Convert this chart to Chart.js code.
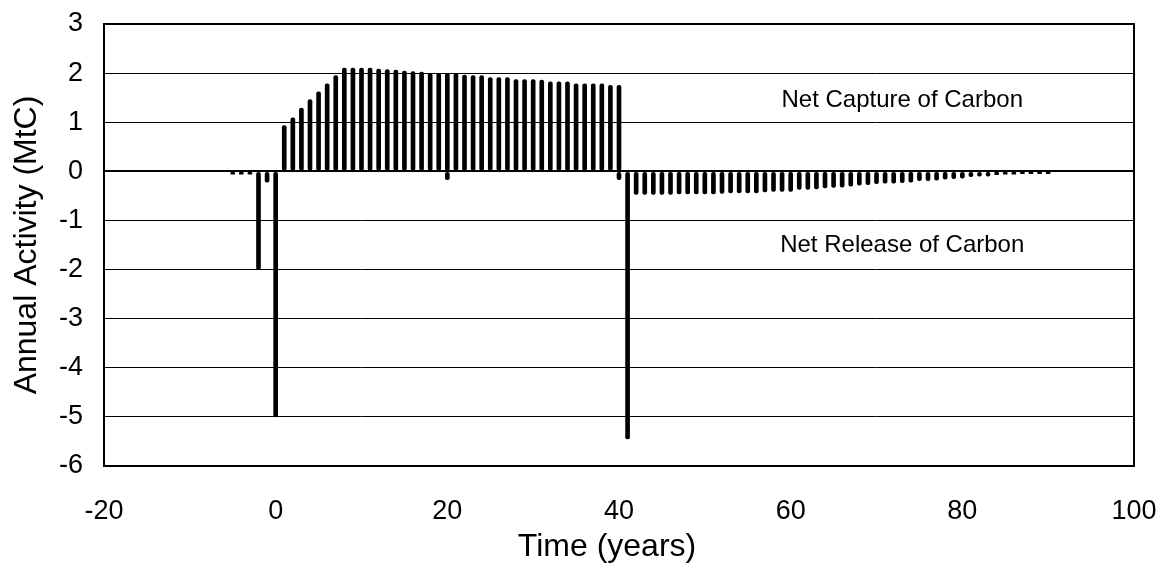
<!DOCTYPE html>
<html>
<head>
<meta charset="utf-8">
<script src="https://cdn.jsdelivr.net/npm/chart.js@4"></script>
<style>
  html, body { margin: 0; padding: 0; background: #fff; }
  #wrap { width: 1161px; height: 564px; }
</style>
</head>
<body>
<div id="wrap"><canvas id="chart" width="1161" height="564"></canvas></div>
<script>
// carbon activity per year (MtC)
const captureYears  = [1,2,3,4,5,6,7,8,9,10,11,12,13,14,15,16,17,18,19,20,21,22,23,24,25,26,27,28,29,30,31,32,33,34,35,36,37,38,39,40];
const captureValues = [0.93,1.09,1.29,1.46,1.62,1.78,1.95,2.10,2.10,2.10,2.10,2.08,2.07,2.06,2.04,2.03,2.02,1.99,1.99,1.99,
                       1.99,1.96,1.95,1.95,1.91,1.91,1.91,1.87,1.87,1.87,1.86,1.82,1.82,1.82,1.78,1.78,1.78,1.78,1.75,1.75];

const releaseYears  = [-5,-4,-3,-2,-1,0,20,40,41,42,43,44,45,46,47,48,49,50,51,52,53,54,55,56,57,58,59,60,61,62,63,64,65,
                       66,67,68,69,70,71,72,73,74,75,76,77,78,79,80,81,82,83,84,85,86,87,88,89,90];
const releaseValues = [-0.06,-0.06,-0.06,-2.00,-0.22,-5.00,-0.17,-0.17,-5.45,
                       -0.47,-0.47,-0.47,-0.47,-0.47,-0.46,-0.46,-0.46,-0.46,-0.46,-0.45,-0.44,-0.44,-0.44,-0.44,
                       -0.42,-0.41,-0.41,-0.41,-0.37,-0.37,-0.36,-0.34,-0.33,-0.32,-0.30,-0.28,-0.27,-0.25,-0.24,
                       -0.24,-0.23,-0.22,-0.19,-0.19,-0.18,-0.16,-0.15,-0.14,-0.11,-0.10,-0.10,-0.07,-0.06,-0.06,
                       -0.05,-0.05,-0.05,-0.05];

const xTicks = [-20,0,20,40,60,80,100];
const yTicks = [3,2,1,0,-1,-2,-3,-4,-5,-6];
const xTitle = 'Time (years)';
const notes = [
  { text: 'Net Capture of Carbon', x: 73, y: 1.45 },
  { text: 'Net Release of Carbon', x: 73, y: -1.5 }
];

const FONT = '"Liberation Sans", Arial, sans-serif';

const toPoints = (xs, ys) => xs.map((x, i) => ({ x, y: ys[i] }));

const frameAndNotes = {
  id: 'frameAndNotes',
  afterDatasetsDraw(chart) {
    const { ctx, chartArea: a, scales } = chart;
    ctx.save();
    ctx.strokeStyle = '#000';
    ctx.lineWidth = 2;
    ctx.strokeRect(a.left, a.top, a.right - a.left, a.bottom - a.top);
    ctx.fillStyle = '#000';
    ctx.textAlign = 'center';
    ctx.textBaseline = 'middle';
    ctx.font = '24px ' + FONT;
    notes.forEach(n => ctx.fillText(n.text, scales.x.getPixelForValue(n.x), scales.y.getPixelForValue(n.y)));
    // x title sits a little left of the plot centre in the original
    ctx.font = '32px ' + FONT;
    ctx.fillText(xTitle, (a.left + a.right) / 2 - 12, 547);
    ctx.restore();
  }
};

const barStyle = {
  backgroundColor: '#000',
  barThickness: 4,
  borderRadius: 2,
  borderSkipped: false,
  grouped: false
};

new Chart(document.getElementById('chart'), {
  type: 'bar',
  data: {
    datasets: [
      { label: 'Capture', data: toPoints(captureYears, captureValues), ...barStyle },
      { label: 'Release', data: toPoints(releaseYears, releaseValues), ...barStyle }
    ]
  },
  options: {
    responsive: false,
    animation: false,
    layout: { padding: { top: 24, right: 27, left: 0, bottom: 0 } },
    plugins: { legend: { display: false }, tooltip: { enabled: false } },
    scales: {
      x: {
        type: 'linear',
        min: -20, max: 100,
        offset: false,
        afterBuildTicks: s => { s.ticks = xTicks.map(v => ({ value: v })); },
        afterFit: s => { s.height = 98; s.paddingLeft = 0; s.paddingRight = 0; },
        grid: { display: false, offset: false },
        border: { display: false },
        ticks: { color: '#000', padding: 21, font: { family: FONT, size: 27 } }
      },
      y: {
        min: -6, max: 3,
        afterBuildTicks: s => { s.ticks = yTicks.map(v => ({ value: v })); },
        afterFit: s => { s.width = 104; s.paddingTop = 0; s.paddingBottom = 0; },
        grid: { color: '#000', lineWidth: c => c.tick && c.tick.value === 0 ? 2 : 1, drawTicks: false },
        border: { display: false },
        ticks: { color: '#000', padding: 21, font: { family: FONT, size: 27 } },
        title: { display: true, text: 'Annual Activity (MtC)', color: '#000', padding: { top: 8 }, font: { family: FONT, size: 32 } }
      }
    }
  },
  plugins: [frameAndNotes]
});
</script>
</body>
</html>
